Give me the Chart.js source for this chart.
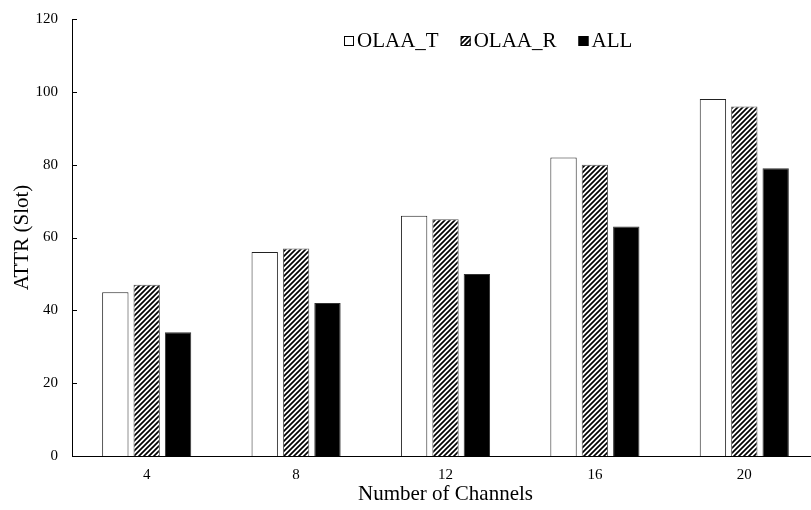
<!DOCTYPE html>
<html>
<head>
<meta charset="utf-8">
<script src="https://cdn.jsdelivr.net/npm/chart.js@4.4.0/dist/chart.umd.min.js"></script>
<style>
  html, body { margin: 0; padding: 0; background: #fff; overflow: hidden; }
  #wrap { width: 819px; height: 510px; position: relative; }
</style>
</head>
<body>
<div id="wrap"><canvas id="c"></canvas></div>
<script>
// Average time to rendezvous per channel count
const channels = ['4', '8', '12', '16', '20'];
const olaaT = [45, 56, 66, 82, 98];
const olaaR = [47, 57, 65, 80, 96];
const allScheme = [34, 42, 50, 63, 79];
const seriesNames = ['OLAA_T', 'OLAA_R', 'ALL'];
const yMin = 0, yMax = 120, yStep = 20;

const SERIF = '"Liberation Serif", "Times New Roman", serif';
const canvas = document.getElementById('c');
const ctx = canvas.getContext('2d');

// diagonal "/" hatch fill
function makeHatch() {
  const s = 5;
  const t = document.createElement('canvas');
  t.width = s; t.height = s;
  const g = t.getContext('2d');
  g.fillStyle = '#fff';
  g.fillRect(0, 0, s, s);
  g.strokeStyle = '#000';
  g.lineWidth = 1.7;
  g.beginPath();
  g.moveTo(-1, s + 1); g.lineTo(s + 1, -1);
  g.moveTo(-1, 1); g.lineTo(1, -1);
  g.moveTo(s - 1, s + 1); g.lineTo(s + 1, s - 1);
  g.stroke();
  return ctx.createPattern(t, 'repeat');
}
const hatch = makeHatch();

const fills = ['#ffffff', hatch, '#000000'];
const borders = ['#222222', '#555555', '#333333'];

// short inward tick marks on the value axis
const innerTicks = {
  id: 'innerTicks',
  afterDraw(chart) {
    const y = chart.scales.y;
    const c = chart.ctx;
    c.save();
    c.strokeStyle = '#000';
    c.lineWidth = 1;
    y.ticks.forEach(t => {
      const py = Math.round(y.getPixelForValue(t.value)) + 0.5;
      c.beginPath();
      c.moveTo(y.right, py);
      c.lineTo(y.right + 5, py);
      c.stroke();
    });
    c.restore();
  }
};

// single-row legend with small swatches set close to the text
const swatchLegend = {
  id: 'swatchLegend',
  afterDraw(chart, args, opts) {
    const c = chart.ctx;
    c.save();
    c.font = opts.font;
    c.textBaseline = 'middle';
    c.fillStyle = '#000';
    let x = opts.x;
    const yc = opts.y;
    const b = opts.box;
    chart.data.datasets.forEach(ds => {
      c.fillStyle = ds.backgroundColor;
      c.fillRect(x, yc - b / 2, b, b);
      c.strokeStyle = '#000';
      c.lineWidth = 1;
      c.strokeRect(x + 0.5, yc - b / 2 + 0.5, b - 1, b - 1);
      x += b + opts.gap;
      c.fillStyle = '#000';
      c.fillText(ds.label, x, yc);
      x += c.measureText(ds.label).width + opts.spacing;
    });
    c.restore();
  }
};

new Chart(canvas, {
  type: 'bar',
  data: {
    labels: channels,
    datasets: [olaaT, olaaR, allScheme].map((d, i) => ({
      label: seriesNames[i],
      data: d,
      backgroundColor: fills[i],
      borderColor: borders[i],
      borderWidth: 1,
      barPercentage: 0.84,
      categoryPercentage: 0.63
    }))
  },
  options: {
    responsive: true,
    maintainAspectRatio: false,
    animation: false,
    layout: { padding: { top: 19, left: 0, right: 0, bottom: 0 } },
    plugins: {
      legend: { display: false },
      tooltip: { enabled: false },
      swatchLegend: { x: 344, y: 41, box: 10, gap: 3, spacing: 22, font: '21px ' + SERIF }
    },
    scales: {
      x: {
        grid: { display: false, drawTicks: false },
        border: { display: true, color: '#000', width: 1 },
        ticks: { color: '#000', font: { family: SERIF, size: 15 }, padding: 10 },
        title: {
          display: true, text: 'Number of Channels', color: '#000',
          font: { family: SERIF, size: 21 }, padding: { top: 3, bottom: 3 }
        },
        afterFit(s) { s.height = 54; }
      },
      y: {
        min: yMin, max: yMax,
        grid: { display: false, drawTicks: false },
        border: { display: true, color: '#000', width: 1 },
        ticks: { stepSize: yStep, color: '#000', font: { family: SERIF, size: 15 }, padding: 14 },
        title: {
          display: true, text: 'ATTR (Slot)', color: '#000',
          font: { family: SERIF, size: 21 }, padding: { top: 10, bottom: 10 }
        },
        afterFit(s) {
          s.width = 72;
          s.paddingTop = 9;
          s.paddingBottom = 9;
        }
      }
    }
  },
  plugins: [innerTicks, swatchLegend]
});
</script>
</body>
</html>
